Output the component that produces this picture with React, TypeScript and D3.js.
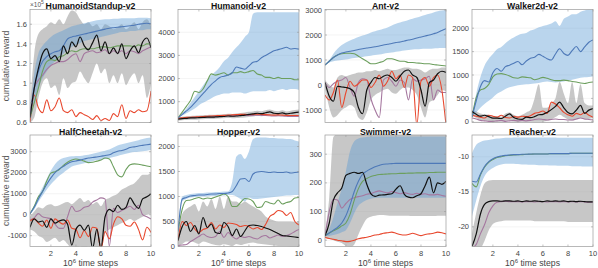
import React from 'react';
import * as d3 from 'd3';

// shared x positions (10^6 time steps)
const X = [0.33, 0.67, 1, 1.33, 1.67, 2, 2.33, 2.67, 3, 3.33, 3.67, 4, 4.33, 4.67, 5, 5.33, 5.67, 6, 6.33, 6.67, 7, 7.33, 7.67, 8, 8.33, 8.67, 9, 9.33, 9.67, 10];
const xTicks = [2, 4, 6, 8, 10];

// HumanoidStandup-v2 (x10^5)
const standupBlue = [0.65, 0.95, 1.12, 1.22, 1.27, 1.3, 1.32, 1.33, 1.38, 1.45, 1.47, 1.48, 1.49, 1.5, 1.51, 1.52, 1.53, 1.54, 1.55, 1.56, 1.565, 1.57, 1.575, 1.58, 1.585, 1.59, 1.6, 1.605, 1.61, 1.605];
const standupBlueHi = [0.7, 1.1, 1.3, 1.38, 1.43, 1.47, 1.5, 1.52, 1.54, 1.56, 1.58, 1.59, 1.6, 1.61, 1.62, 1.63, 1.64, 1.645, 1.65, 1.65, 1.655, 1.655, 1.66, 1.66, 1.66, 1.66, 1.665, 1.665, 1.665, 1.66];
const standupBlueLo = [0.6, 0.8, 0.95, 1.05, 1.12, 1.18, 1.22, 1.26, 1.3, 1.34, 1.37, 1.39, 1.41, 1.43, 1.44, 1.45, 1.46, 1.47, 1.48, 1.49, 1.5, 1.51, 1.52, 1.52, 1.53, 1.53, 1.54, 1.54, 1.55, 1.55];
const standupBlack = [0.65, 0.95, 1.15, 1.3, 1.35, 1.25, 1.28, 1.22, 1.38, 1.3, 1.42, 1.37, 1.47, 1.38, 1.34, 1.41, 1.49, 1.33, 1.42, 1.3, 1.36, 1.3, 1.4, 1.25, 1.33, 1.38, 1.31, 1.42, 1.46, 1.36];
const standupBlackHi = [0.75, 1.3, 1.5, 1.55, 1.58, 1.62, 1.6, 1.65, 1.6, 1.68, 1.74, 1.72, 1.65, 1.6, 1.62, 1.58, 1.6, 1.55, 1.6, 1.58, 1.55, 1.57, 1.6, 1.55, 1.58, 1.62, 1.55, 1.62, 1.65, 1.58];
const standupBlackLo = [0.6, 0.65, 0.85, 1.0, 1.05, 0.95, 0.98, 0.88, 1.05, 0.95, 1.0, 1.02, 1.12, 1.05, 1.0, 1.1, 1.2, 1.1, 1.15, 1.0, 1.08, 1.0, 1.1, 0.98, 1.05, 1.1, 1.0, 1.08, 0.85, 1.0];
const standupGreen = [0.65, 0.8, 0.95, 1.12, 1.22, 1.24, 1.23, 1.27, 1.28, 1.31, 1.33, 1.32, 1.34, 1.35, 1.35, 1.35, 1.36, 1.37, 1.37, 1.36, 1.37, 1.38, 1.38, 1.38, 1.38, 1.37, 1.39, 1.38, 1.4, 1.4];
const standupPurple = [0.65, 0.95, 1.03, 1.08, 1.14, 1.18, 1.2, 1.22, 1.22, 1.24, 1.28, 1.3, 1.22, 1.3, 1.32, 1.33, 1.31, 1.32, 1.34, 1.3, 1.33, 1.31, 1.33, 1.3, 1.33, 1.32, 1.3, 1.33, 1.35, 1.37];
const standupRed = [0.6, 0.88, 0.75, 0.7, 0.83, 0.72, 0.76, 0.85, 0.72, 0.7, 0.73, 0.66, 0.7, 0.68, 0.66, 0.63, 0.67, 0.62, 0.64, 0.62, 0.69, 0.66, 0.78, 0.64, 0.72, 0.7, 0.73, 0.71, 0.72, 0.92];

// Humanoid-v2
const humanoidBlue = [300, 450, 600, 750, 950, 1150, 1350, 1550, 1750, 1900, 2050, 2100, 2150, 2250, 2500, 2450, 2400, 2550, 2700, 2750, 2900, 3000, 3100, 3200, 3250, 3300, 3350, 3280, 3300, 3270];
const humanoidBlueHi = [300, 500, 700, 950, 1200, 1450, 1700, 1950, 2150, 2300, 2500, 2750, 2900, 3150, 3350, 3550, 3800, 4000, 4800, 4870, 4870, 4870, 4870, 4870, 4870, 4870, 4870, 4870, 4870, 4870];
const humanoidBlueLo = [300, 400, 500, 600, 700, 850, 950, 1050, 1150, 1250, 1300, 1350, 1350, 1400, 1400, 1400, 1350, 1400, 1450, 1450, 1450, 1450, 1500, 1450, 1500, 1550, 1500, 1550, 1550, 1500];
const humanoidBlack = [250, 270, 280, 300, 300, 310, 320, 330, 330, 340, 350, 360, 380, 370, 380, 400, 420, 450, 470, 500, 480, 520, 560, 500, 480, 520, 470, 500, 530, 550];
const humanoidBlackHi = [330, 350, 360, 380, 390, 400, 410, 420, 430, 440, 450, 460, 480, 470, 490, 510, 530, 560, 580, 610, 590, 630, 660, 610, 590, 630, 580, 610, 640, 660];
const humanoidBlackLo = [180, 200, 210, 220, 220, 230, 240, 250, 250, 260, 270, 280, 290, 280, 290, 300, 320, 340, 360, 380, 370, 400, 440, 390, 370, 400, 360, 390, 410, 430];
const humanoidGreen = [300, 550, 800, 1050, 1450, 1400, 1550, 1900, 2200, 2150, 2200, 2250, 2150, 2250, 2250, 2300, 2250, 2300, 2350, 2200, 2150, 2050, 2050, 2000, 2050, 2000, 2000, 2000, 1950, 1950];
const humanoidPurple = [280, 290, 300, 310, 320, 330, 340, 350, 350, 360, 370, 380, 390, 390, 400, 410, 410, 400, 410, 420, 410, 400, 390, 380, 390, 380, 370, 360, 360, 360];
const humanoidRed = [280, 300, 320, 330, 340, 350, 360, 370, 380, 390, 400, 410, 420, 430, 440, 450, 450, 440, 450, 460, 450, 440, 430, 420, 430, 420, 410, 400, 400, 400];

// Ant-v2
const antBlue = [800, 950, 1100, 1200, 1280, 1320, 1350, 1380, 1420, 1450, 1480, 1500, 1530, 1560, 1600, 1630, 1660, 1700, 1720, 1760, 1800, 1830, 1880, 1920, 1960, 2000, 2050, 2100, 2180, 2250];
const antBlueHi = [800, 1000, 1250, 1450, 1600, 1700, 1780, 1850, 1920, 1980, 2030, 2100, 2150, 2200, 2250, 2300, 2380, 2450, 2500, 2550, 2600, 2650, 2700, 2750, 2800, 2850, 2900, 2950, 2980, 3000];
const antBlueLo = [800, 900, 950, 980, 1000, 1020, 1050, 1080, 1100, 1120, 1150, 1170, 1200, 1220, 1250, 1280, 1300, 1330, 1350, 1380, 1400, 1420, 1430, 1440, 1450, 1450, 1460, 1470, 1480, 1480];
const antBlack = [100, -450, -650, -50, -80, -100, -150, -300, -900, -1150, -200, 100, 300, 250, 350, 400, 300, 150, 350, 550, 600, 400, 300, -200, -850, 100, 200, 450, 550, 500];
const antBlackHi = [200, 0, -100, 300, 400, 350, 400, 450, 500, 500, 550, 550, 600, 550, 600, 650, 600, 600, 650, 700, 700, 650, 650, 600, 500, 600, 650, 650, 700, 700];
const antBlackLo = [-100, -900, -1300, -1200, -1000, -900, -800, -900, -1300, -1400, -1100, -600, -400, -300, -200, -150, -300, -350, -200, -100, -100, -200, -400, -900, -1300, -700, -600, -400, -200, -250];
const antGreen = [800, 950, 1100, 1200, 1250, 1270, 1270, 1250, 1150, 1050, 950, 850, 850, 900, 950, 1050, 1050, 1000, 950, 950, 900, 900, 880, 870, 850, 850, 820, 800, 780, 760];
const antPurple = [100, -100, 50, 150, 200, 300, -100, -450, 100, 250, 200, -550, -1000, -1300, 200, 300, 150, -50, 200, 100, -600, 250, 150, 200, 250, 350, -600, -200, -300, -300];
const antRed = [-400, -600, -300, 200, -900, -300, 150, -50, 50, 200, 200, -100, 100, 400, -50, 150, 550, 250, 400, -100, 400, 300, -1600, 150, 300, -50, 300, 400, -200, -1600];

// Walker2d-v2
const walkerBlue = [100, 450, 750, 880, 850, 1050, 1140, 1080, 1180, 1210, 1250, 1290, 1220, 1300, 1360, 1380, 1440, 1400, 1350, 1320, 1450, 1560, 1460, 1420, 1520, 1610, 1500, 1600, 1700, 1750];
const walkerBlueHi = [100, 600, 950, 1200, 1350, 1450, 1550, 1600, 1680, 1750, 1800, 1850, 1880, 1900, 1950, 1980, 2020, 2050, 2070, 2100, 2150, 2050, 2200, 2250, 2300, 2300, 2350, 2380, 2400, 2400];
const walkerBlueLo = [100, 200, 300, 380, 450, 520, 600, 650, 700, 740, 760, 780, 790, 800, 810, 820, 830, 850, 860, 850, 840, 850, 860, 880, 900, 920, 940, 950, 960, 970];
const walkerBlack = [220, 160, 120, 140, 110, 80, 80, 70, 120, 170, 90, 60, 50, 100, 90, 110, 150, 160, 200, 260, 330, 420, 300, 200, 170, 250, 350, 180, 250, 280];
const walkerBlackHi = [250, 220, 180, 160, 150, 130, 120, 110, 180, 200, 150, 120, 150, 200, 250, 500, 800, 300, 300, 400, 500, 850, 600, 400, 850, 400, 800, 400, 350, 350];
const walkerBlackLo = [150, 80, 40, 20, 10, 0, 0, 0, 10, 20, 0, 0, 0, 0, 0, 0, 0, 0, 20, 50, 100, 150, 100, 50, 30, 50, 80, 50, 60, 80];
const walkerGreen = [100, 520, 680, 710, 800, 960, 1020, 1030, 1010, 980, 940, 930, 960, 950, 940, 900, 920, 950, 930, 900, 880, 880, 890, 880, 860, 850, 830, 820, 840, 850];
const walkerPurple = [80, 60, 30, 20, 10, 10, 20, 30, 10, 20, 30, 20, 30, 20, 30, 50, 60, 50, 40, 50, 60, 50, 50, 40, 40, 60, 80, 60, 50, 40];
const walkerRed = [140, 120, 100, 80, 140, 120, 100, 140, 90, 80, 120, 100, 120, 110, 130, 180, 200, 230, 180, 420, 380, 300, 200, 150, 120, 180, 150, 200, 140, 100];

// HalfCheetah-v2
const cheetahBlue = [50, 350, 750, 1100, 1450, 1750, 2000, 2180, 2300, 2430, 2520, 2560, 2600, 2650, 2700, 2720, 2750, 2780, 2820, 2850, 2950, 3020, 3060, 3120, 3200, 3230, 3270, 3300, 3330, 3360];
const cheetahBlueHi = [50, 450, 900, 1300, 1700, 2100, 2400, 2600, 2700, 2750, 2780, 2800, 2800, 2830, 2850, 2900, 2950, 3000, 3050, 3100, 3200, 3300, 3350, 3400, 3450, 3500, 3550, 3600, 3650, 3680];
const cheetahBlueLo = [50, 250, 600, 900, 1200, 1450, 1650, 1850, 2000, 2150, 2300, 2350, 2400, 2450, 2500, 2550, 2600, 2620, 2650, 2700, 2750, 2800, 2850, 2900, 2950, 2980, 3000, 3020, 3050, 3080];
const cheetahBlack = [-600, -200, -350, -300, -600, -200, -400, -300, -250, -450, -1450, -700, -500, -750, -500, -1600, -700, -1600, -100, 250, 150, 450, 250, 350, 800, 500, 300, 750, 850, 1000];
const cheetahBlackHi = [-100, 150, 350, 300, 450, 500, 400, 450, 550, 600, 500, 650, 800, 600, 700, 500, 600, 400, 700, 800, 900, 1000, 1200, 1300, 1400, 1500, 1700, 1900, 1900, 2000];
const cheetahBlackLo = [-700, -800, -1000, -1100, -1300, -1200, -1100, -1300, -1200, -1400, -1600, -1600, -1500, -1600, -1500, -1600, -1600, -1600, -900, -700, -600, -500, -400, -300, -200, -300, -200, -100, 0, 50];
const cheetahGreen = [50, 400, 850, 1100, 1600, 1980, 2050, 2150, 2350, 2500, 2600, 2650, 2620, 2550, 2480, 2500, 2550, 2600, 2700, 2650, 2280, 1900, 1800, 2150, 2380, 2420, 2400, 2360, 2320, 2280];
const cheetahPurple = [-250, -150, 50, -100, -150, -200, -450, -650, -650, -100, 400, 150, 200, 350, 400, 600, 700, 800, 750, -1500, 300, 100, 200, 300, 400, 250, 450, 0, -100, -200];
const cheetahRed = [-300, -200, -400, -550, -250, -650, -200, -350, -450, -250, -650, -700, -1100, -750, -1050, -600, -650, -1650, -800, -1150, -450, -100, -200, -500, -550, -350, -700, -1200, -600, -850];

// Hopper-v2
const hopperBlue = [300, 950, 980, 1010, 1020, 1030, 1030, 1040, 1050, 1050, 1060, 1060, 1070, 1100, 1220, 1350, 1360, 1300, 1450, 1490, 1500, 1490, 1480, 1490, 1480, 1480, 1490, 1470, 1480, 1490];
const hopperBlueHi = [300, 1000, 1030, 1050, 1060, 1070, 1070, 1080, 1080, 1090, 1090, 1100, 1100, 1300, 1800, 1850, 1750, 1900, 2150, 2180, 2180, 2180, 2170, 2170, 2160, 2160, 2150, 2150, 2120, 2100];
const hopperBlueLo = [300, 900, 950, 980, 990, 1000, 1000, 1000, 1010, 1010, 1020, 1020, 1030, 1030, 1000, 950, 900, 980, 950, 950, 960, 970, 980, 990, 1000, 1010, 1020, 1020, 1030, 1030];
const hopperBlack = [120, 400, 500, 300, 420, 250, 580, 380, 450, 280, 260, 480, 400, 220, 350, 200, 310, 420, 430, 420, 400, 370, 340, 300, 260, 220, 210, 200, 190, 180];
const hopperBlackHi = [300, 650, 750, 800, 850, 700, 900, 800, 950, 750, 1000, 750, 1000, 900, 900, 850, 900, 850, 800, 750, 700, 600, 550, 520, 500, 500, 500, 500, 490, 490];
const hopperBlackLo = [0, 50, 100, 100, 80, 50, 100, 80, 50, 30, 20, 50, 30, 10, 50, 30, 50, 70, 80, 60, 50, 40, 30, 20, 10, 10, 10, 0, 0, 0];
const hopperGreen = [300, 750, 920, 930, 960, 980, 950, 970, 960, 990, 1020, 1050, 1000, 800, 800, 880, 960, 950, 900, 780, 790, 900, 870, 850, 930, 850, 880, 900, 970, 980];
const hopperPurple = [20, 30, 40, 100, 150, 200, 250, 200, 180, 200, 300, 180, 280, 200, 150, 200, 180, 200, 170, 150, 200, 220, 170, 200, 230, 200, 220, 250, 300, 340];
const hopperRed = [120, 500, 420, 480, 350, 280, 340, 370, 480, 350, 430, 380, 470, 460, 440, 400, 420, 400, 350, 380, 340, 440, 600, 650, 720, 700, 620, 680, 500, 430];

// Swimmer-v2
const swimmerBlue = [15, 25, 35, 45, 60, 85, 123, 170, 206, 230, 241, 249, 256, 261, 265, 266, 267, 268, 268, 268, 268, 268, 268, 268, 268, 268, 268, 268, 268, 268];
const swimmerBlueHi = [15, 40, 80, 130, 180, 240, 310, 345, 355, 358, 360, 362, 362, 362, 362, 362, 362, 362, 362, 362, 362, 362, 362, 362, 362, 362, 362, 362, 362, 362];
const swimmerBlueLo = [15, 15, 18, 22, 28, 35, 60, 94, 120, 132, 140, 145, 147, 148, 148, 148, 148, 148, 148, 148, 148, 148, 148, 148, 148, 148, 148, 148, 148, 148];
const swimmerBlack = [15, 60, 140, 165, 182, 226, 233, 237, 233, 237, 195, 162, 153, 157, 158, 160, 162, 178, 190, 160, 150, 148, 155, 162, 190, 220, 165, 200, 195, 205];
const swimmerBlackHi = [20, 150, 360, 370, 370, 370, 370, 370, 370, 370, 370, 370, 370, 370, 370, 370, 370, 370, 370, 370, 370, 370, 370, 370, 370, 370, 370, 370, 370, 370];
const swimmerBlackLo = [10, 5, 0, -5, -10, -20, -25, -15, 20, 50, 75, 82, 85, 88, 88, 86, 85, 85, 85, 85, 85, 84, 84, 84, 84, 84, 84, 85, 85, 85];
const swimmerGreen = [15, 25, 33, 40, 50, 60, 90, 140, 180, 205, 215, 222, 226, 229, 230, 231, 232, 232, 233, 233, 234, 234, 235, 235, 235, 236, 236, 237, 237, 237];
const swimmerPurple = [15, 100, 143, 140, 112, 128, 142, 148, 152, 155, 160, 163, 168, 172, 168, 165, 170, 166, 162, 166, 162, 160, 164, 160, 162, 158, 158, 160, 156, 153];
const swimmerRed = [10, 6, 3, 0, -2, -5, -4, 0, 5, 8, 10, 14, 18, 20, 24, 26, 28, 24, 20, 18, 20, 24, 20, 16, 20, 22, 24, 28, 26, 22];

// Reacher-v2
const reacherBlue = [-13.5, -13.6, -12.5, -11.4, -10.7, -10.3, -10.05, -9.9, -9.8, -9.75, -9.7, -9.7, -9.65, -9.65, -9.6, -9.6, -9.6, -9.6, -9.6, -9.55, -9.55, -9.55, -9.55, -9.55, -9.5, -9.5, -9.5, -9.5, -9.5, -9.5];
const reacherBlueHi = [-9.5, -8.3, -7.9, -7.7, -7.6, -7.5, -7.4, -7.35, -7.3, -7.3, -7.25, -7.25, -7.25, -7.25, -7.25, -7.25, -7.25, -7.25, -7.25, -7.25, -7.25, -7.3, -7.3, -7.3, -7.3, -7.3, -7.3, -7.3, -7.3, -7.3];
const reacherBlueLo = [-18.5, -16.2, -14.2, -12.8, -12, -11.6, -11.3, -11.1, -11, -11, -11, -11.05, -11.1, -11.1, -11.15, -11.15, -11.2, -11.2, -11.2, -11.25, -11.25, -11.3, -11.3, -11.3, -11.35, -11.35, -11.35, -11.4, -11.4, -11.4];
const reacherBlack = [-22.8, -21, -18.2, -16.8, -16.4, -16.3, -16.3, -16.35, -16.3, -16.3, -16.35, -16.3, -16.4, -16.3, -16.35, -16.3, -16.35, -16.4, -16.3, -16.35, -16.3, -16.35, -16.3, -16.4, -16.35, -16.4, -16.35, -16.4, -16.45, -16.45];
const reacherBlackHi = [-21, -18, -15.5, -13.8, -13.4, -13.3, -13.3, -13.3, -13.3, -13.3, -13.3, -13.3, -13.3, -13.3, -13.3, -13.3, -13.3, -13.3, -13.3, -13.3, -13.3, -13.3, -13.3, -13.3, -13.3, -13.3, -13.3, -13.3, -13.3, -13.3];
const reacherBlackLo = [-23, -23, -23, -22, -20.5, -19.6, -19.3, -19.2, -19.1, -19.1, -19.1, -19.1, -19.1, -19.1, -19.1, -19.2, -19.2, -19.2, -19.2, -19.2, -19.2, -19.2, -19.2, -19.3, -19.3, -19.3, -19.3, -19.3, -19.3, -19.3];
const reacherGreen = [-13.8, -14.3, -12.6, -11.5, -10.8, -10.4, -10.1, -10, -9.85, -9.8, -9.75, -9.7, -9.7, -9.65, -9.65, -9.6, -9.6, -9.6, -9.6, -9.55, -9.55, -9.55, -9.55, -9.55, -9.5, -9.5, -9.5, -9.5, -9.5, -9.5];
const reacherPurple = [-23, -22.5, -21, -19.7, -18, -17, -16.5, -16.4, -16.35, -16.4, -16.4, -16.4, -16.45, -16.4, -16.4, -16.45, -16.4, -16.4, -16.45, -16.4, -16.4, -16.45, -16.4, -16.45, -16.4, -16.45, -16.4, -16.45, -16.5, -16.5];
const reacherRed = [-23, -23, -23, -23, -23, -23, -23, -23, -23, -23, -23, -23, -23, -23, -23, -23, -23, -23, -23, -23, -23, -23, -23, -23, -23, -23, -23, -23, -23, -23];

interface Panel {
  title: string;
  yDomain: [number, number];
  yTicks: number[];
  blue: number[]; blueLo: number[]; blueHi: number[];
  black: number[]; blackLo: number[]; blackHi: number[];
  green: number[]; purple: number[]; red: number[];
}

const panels: Panel[] = [
  { title: 'HumanoidStandup-v2', yDomain: [0.6, 1.75], yTicks: [0.6, 0.8, 1, 1.2, 1.4, 1.6],
    blue: standupBlue, blueLo: standupBlueLo, blueHi: standupBlueHi, black: standupBlack, blackLo: standupBlackLo, blackHi: standupBlackHi,
    green: standupGreen, purple: standupPurple, red: standupRed },
  { title: 'Humanoid-v2', yDomain: [100, 4985], yTicks: [1000, 2000, 3000, 4000],
    blue: humanoidBlue, blueLo: humanoidBlueLo, blueHi: humanoidBlueHi, black: humanoidBlack, blackLo: humanoidBlackLo, blackHi: humanoidBlackHi,
    green: humanoidGreen, purple: humanoidPurple, red: humanoidRed },
  { title: 'Ant-v2', yDomain: [-1500, 3020], yTicks: [-1000, 0, 1000, 2000, 3000],
    blue: antBlue, blueLo: antBlueLo, blueHi: antBlueHi, black: antBlack, blackLo: antBlackLo, blackHi: antBlackHi,
    green: antGreen, purple: antPurple, red: antRed },
  { title: 'Walker2d-v2', yDomain: [-15, 2400], yTicks: [0, 500, 1000, 1500, 2000],
    blue: walkerBlue, blueLo: walkerBlueLo, blueHi: walkerBlueHi, black: walkerBlack, blackLo: walkerBlackLo, blackHi: walkerBlackHi,
    green: walkerGreen, purple: walkerPurple, red: walkerRed },
  { title: 'HalfCheetah-v2', yDomain: [-1515, 3795], yTicks: [-1000, 0, 1000, 2000, 3000],
    blue: cheetahBlue, blueLo: cheetahBlueLo, blueHi: cheetahBlueHi, black: cheetahBlack, blackLo: cheetahBlackLo, blackHi: cheetahBlackHi,
    green: cheetahGreen, purple: cheetahPurple, red: cheetahRed },
  { title: 'Hopper-v2', yDomain: [0, 2230], yTicks: [0, 500, 1000, 1500, 2000],
    blue: hopperBlue, blueLo: hopperBlueLo, blueHi: hopperBlueHi, black: hopperBlack, blackLo: hopperBlackLo, blackHi: hopperBlackHi,
    green: hopperGreen, purple: hopperPurple, red: hopperRed },
  { title: 'Swimmer-v2', yDomain: [-22, 367], yTicks: [0, 100, 200, 300],
    blue: swimmerBlue, blueLo: swimmerBlueLo, blueHi: swimmerBlueHi, black: swimmerBlack, blackLo: swimmerBlackLo, blackHi: swimmerBlackHi,
    green: swimmerGreen, purple: swimmerPurple, red: swimmerRed },
  { title: 'Reacher-v2', yDomain: [-22.8, -6.9], yTicks: [-20, -15, -10],
    blue: reacherBlue, blueLo: reacherBlueLo, blueHi: reacherBlueHi, black: reacherBlack, blackLo: reacherBlackLo, blackHi: reacherBlackHi,
    green: reacherGreen, purple: reacherPurple, red: reacherRed },
];

const colLeft = [30, 178, 325, 472];
const rowTop = [9.5, 135];
const rowH = [113, 111.5];
const PW = 121;
const FONT = '"Liberation Sans", Arial, Helvetica, sans-serif';

const COLORS = {
  blue: '#4e79b8',
  green: '#6c9f5e',
  red: '#e8472d',
  purple: '#a5779f',
  black: '#111111',
};

function PanelView({ p, idx }: { p: Panel; idx: number }) {
  const col = idx % 4;
  const row = Math.floor(idx / 4);
  const left = colLeft[col];
  const top = rowTop[row];
  const h = rowH[row];
  const right = left + PW;
  const bottom = top + h;

  const x = d3.scaleLinear().domain([X[0], 10]).range([left, right]);
  const y = d3.scaleLinear().domain(p.yDomain).range([bottom, top]);

  const line = (vals: number[]) =>
    d3.line<number>().x((_, i) => x(X[i])).y((d) => y(d)).curve(d3.curveMonotoneX)(vals) || '';
  const area = (lo: number[], hi: number[]) =>
    d3.area<number>().x((_, i) => x(X[i])).y0((_, i) => y(lo[i])).y1((d) => y(d)).curve(d3.curveMonotoneX)(hi) || '';

  const clipId = `clip-${idx}`;

  return (
    <g>
      <defs>
        <clipPath id={clipId}>
          <rect x={left} y={top} width={PW} height={h} />
        </clipPath>
      </defs>
      <rect x={left} y={top} width={PW} height={h} fill="#fff" />
      {p.yTicks.map((t) => (
        <line key={'g' + t} x1={left} x2={right} y1={y(t)} y2={y(t)} stroke="#ececec" strokeWidth={0.6} />
      ))}
      <g clipPath={`url(#${clipId})`}>
        <path d={area(p.blackLo, p.blackHi)} fill="#8f8f8f" fillOpacity={0.5} />
        <path d={area(p.blueLo, p.blueHi)} fill="#5b9bd5" fillOpacity={0.42} />
        <path d={line(p.purple)} fill="none" stroke={COLORS.purple} strokeWidth={1.1} />
        <path d={line(p.red)} fill="none" stroke={COLORS.red} strokeWidth={1.1} />
        <path d={line(p.green)} fill="none" stroke={COLORS.green} strokeWidth={1.1} />
        <path d={line(p.blue)} fill="none" stroke={COLORS.blue} strokeWidth={1.1} />
        <path d={line(p.black)} fill="none" stroke={COLORS.black} strokeWidth={1.2} />
      </g>
      <rect x={left} y={top} width={PW} height={h} fill="none" stroke="#9a9a9a" strokeWidth={0.7} />
      {xTicks.map((t) => (
        <g key={'xt' + t}>
          <line x1={x(t)} x2={x(t)} y1={bottom} y2={bottom - 2} stroke="#9a9a9a" strokeWidth={0.6} />
          <line x1={x(t)} x2={x(t)} y1={top} y2={top + 2} stroke="#9a9a9a" strokeWidth={0.6} />
        </g>
      ))}
      {p.yTicks.map((t) => (
        <g key={'yt' + t}>
          <line x1={left} x2={left + 2} y1={y(t)} y2={y(t)} stroke="#9a9a9a" strokeWidth={0.6} />
          <line x1={right} x2={right - 2} y1={y(t)} y2={y(t)} stroke="#9a9a9a" strokeWidth={0.6} />
          <text x={left - 3} y={y(t)} dy="0.35em" textAnchor="end" fontSize={7.5} fill="#444" fontFamily={FONT}>
            {String(t)}
          </text>
        </g>
      ))}
      <text x={(left + right) / 2} y={top - 0.5} textAnchor="middle" fontSize={8.7} fontWeight="bold" fill="#111" fontFamily={FONT}>
        {p.title}
      </text>
      {row === 1 &&
        xTicks.map((t) => (
          <text key={'xl' + t} x={x(t)} y={bottom + 9} textAnchor="middle" fontSize={7.5} fill="#444" fontFamily={FONT}>
            {String(t)}
          </text>
        ))}
      {row === 1 && (
        <text x={(left + right) / 2} y={bottom + 19.5} textAnchor="middle" fontSize={8.7} fill="#444" fontFamily={FONT}>
          10<tspan dy={-3.5} fontSize={6}>6</tspan><tspan dy={3.5}> time steps</tspan>
        </text>
      )}
      {col === 0 && (
        <text
          transform={`translate(9, ${top + h / 2}) rotate(-90)`}
          textAnchor="middle"
          fontSize={8.7}
          fill="#555"
          fontFamily={FONT}
        >
          cumulative reward
        </text>
      )}
      {idx === 0 && (
        <text x={left} y={top - 3} fontSize={6.5} fill="#555" fontFamily={FONT}>
          ×10<tspan dy={-2.5} fontSize={5}>5</tspan>
        </text>
      )}
    </g>
  );
}

export default function App() {
  return (
    <svg width={598} height={268} style={{ position: 'absolute', left: 0, top: 0, background: '#fff' }}>
      {panels.map((p, i) => (
        <PanelView key={p.title} p={p} idx={i} />
      ))}
    </svg>
  );
}
